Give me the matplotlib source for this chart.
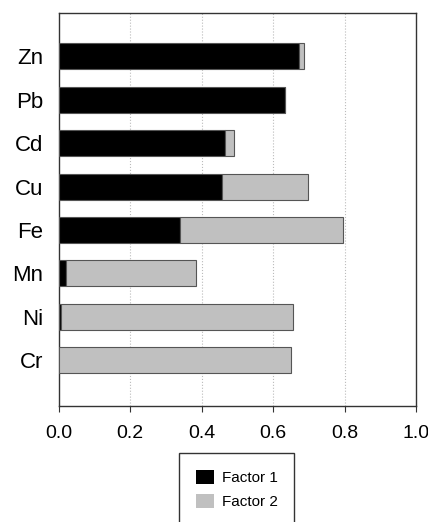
import numpy as np
import matplotlib.pyplot as plt

plt.rcParams['font.family'] = ['Liberation Sans', 'DejaVu Sans']

# elements, bottom (Cr) to top (Zn)
elements = ['Cr', 'Ni', 'Mn', 'Fe', 'Cu', 'Cd', 'Pb', 'Zn']
factor1 = [0.002, 0.008, 0.021, 0.340, 0.457, 0.465, 0.632, 0.673]
factor2 = [0.648, 0.649, 0.364, 0.456, 0.242, 0.026, 0.000, 0.014]

fig = plt.figure(figsize=(4.28, 5.22), dpi=100)
ax = fig.add_axes([0.137, 0.222, 0.835, 0.753])

y = np.arange(len(elements))
ax.barh(y, factor1, height=0.6, color='black', edgecolor='#555555',
        linewidth=0.8, label='Factor 1', zorder=3)
ax.barh(y, factor2, left=factor1, height=0.6, color='#c0c0c0',
        edgecolor='#555555', linewidth=0.8, label='Factor 2', zorder=3)

ax.set_xlim(0, 1.0)
ax.set_ylim(-1.06, 8.0)
ax.set_xticks([0, 0.2, 0.4, 0.6, 0.8, 1.0])
ax.set_xticklabels(['0.0', '0.2', '0.4', '0.6', '0.8', '1.0'], fontsize=14)
ax.set_yticks(y)
ax.set_yticklabels(elements, fontsize=16)
ax.tick_params(axis='y', length=0, pad=11)
ax.tick_params(axis='x', direction='out', length=4.5, pad=9, color='#333333')

for xv in [0.2, 0.4, 0.6, 0.8]:
    ax.axvline(xv, color='#bbbbbb', linestyle=':', linewidth=0.8, zorder=1)

for s in ax.spines.values():
    s.set_color('#333333')
    s.set_linewidth(1.0)

leg = fig.legend(loc='upper center', bbox_to_anchor=(0.553, 0.132),
                 fontsize=11, frameon=True, fancybox=False,
                 handlelength=1.2, handleheight=1.0, borderpad=1.1,
                 labelspacing=0.6, handletextpad=0.5, borderaxespad=0)
leg.get_frame().set_edgecolor('black')
leg.get_frame().set_linewidth(1.0)
for p in leg.get_patches():
    p.set_edgecolor('none')

fig.savefig('out.png', dpi=100)
